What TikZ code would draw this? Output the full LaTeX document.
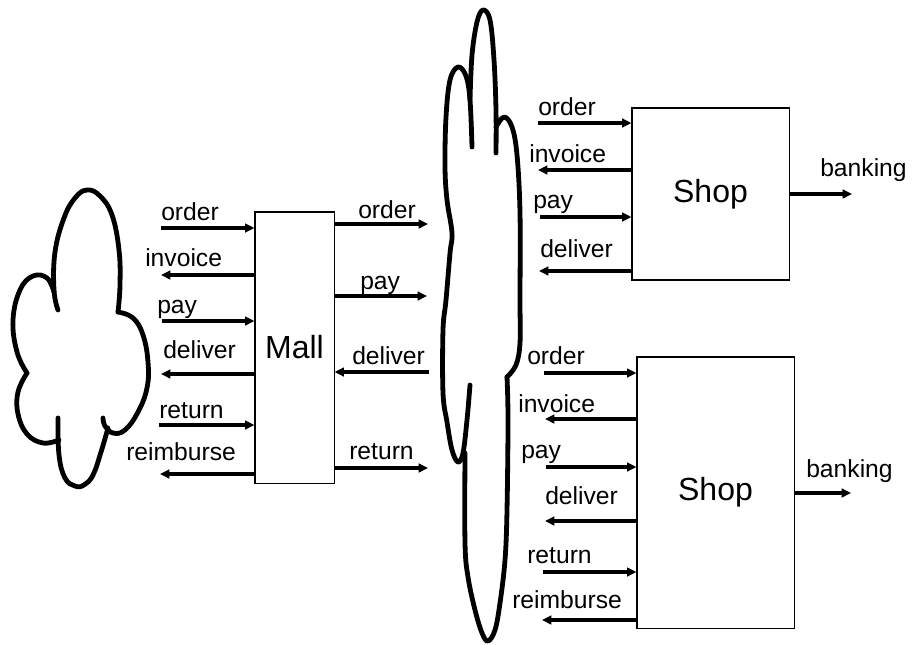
\documentclass[tikz,border=0pt]{standalone}
\usepackage{fontspec}
\setmainfont{Liberation Sans}
\usetikzlibrary{arrows.meta}

\begin{document}
\begin{tikzpicture}[
    x=0.75pt, y=-0.75pt,
    box/.style={rectangle, draw, line width=0.8pt, inner sep=0pt, font=\fontsize{24}{28}\selectfont},
    lbl/.style={anchor=base west, inner sep=0pt, font=\fontsize{18.5}{22}\selectfont},
    line/.style={draw, line width=2.3pt, -{Triangle[length=7pt, width=6.5pt]}},
    puff/.style={draw, line width=3.6pt, line cap=round, line join=round}
]
    \useasboundingbox (0,0) rectangle (912,644);

    % Boxes
    \node [box, minimum width=59.3pt, minimum height=203.3pt] (mall) at (294.5,347.5) {Mall};
    \node [box, minimum width=117.8pt, minimum height=129pt] (shopA) at (710.5,194) {Shop};
    \node [box, minimum width=117.8pt, minimum height=203.3pt] (shopB) at (715.5,492.5) {Shop};

    % Customer cloud on the left
    \draw [puff] plot [smooth, tension=0.7] coordinates {(58,310) (54,290) (55,252) (64,218) (75,198) (87,190) (100,196) (112,215) (119,250) (120,285) (118,312)};
    \draw [puff] plot [smooth, tension=0.7] coordinates {(118,312) (133,318) (143,335) (148,362) (147,388) (138,412) (125,430) (113,433) (105,426) (103,418)};
    \draw [puff] plot [smooth, tension=0.7] coordinates {(108,428) (101,452) (93,475) (84,485) (75,486) (65,478) (59,455) (58,418)};
    \draw [puff] plot [smooth, tension=0.7] coordinates {(59,440) (43,443) (27,434) (18,414) (18,392) (27,373)};
    \draw [puff] plot [smooth, tension=0.7] coordinates {(27,373) (17,352) (13,320) (20,290) (33,276) (47,278) (54,292)};

    % Network cloud in the middle
    \draw [puff] plot [smooth, tension=0.6] coordinates {(472,147) (470,100) (466,76) (458,67) (450,80) (446,117) (445,167) (447,200) (452,233) (450,253) (446,300) (443,330) (443,393) (447,422) (452,450) (458,462) (463,453) (467,420) (470,385)};
    \draw [puff] plot [smooth, tension=0.6] coordinates {(470,100) (472,55) (477,22) (483,10) (490,20) (494,60) (496,110) (496,153)};
    \draw [puff] plot [smooth, tension=0.6] coordinates {(496,127) (504,117) (512,127) (517,155) (520,213) (520,300) (520,343) (516,365) (507,377)};
    \draw [puff] plot [smooth, tension=0.6] coordinates {(507,377) (508,420) (507,510) (505,560) (500,603) (495,630) (488,641) (482,633) (475,610) (468,577) (465,543) (465,453)};

    % Customer <-> Mall
    \coordinate (c1) at (161,228);
    \coordinate (c2) at (161,275);
    \coordinate (c3) at (162,321);
    \coordinate (c4) at (161,374);
    \coordinate (c5) at (159,425);
    \coordinate (c6) at (160,474);
    \path [line] (c1) -- (c1 -| mall.west);
    \path [line] (c2 -| mall.west) -- (c2);
    \path [line] (c3) -- (c3 -| mall.west);
    \path [line] (c4 -| mall.west) -- (c4);
    \path [line] (c5) -- (c5 -| mall.west);
    \path [line] (c6 -| mall.west) -- (c6);
    \node [lbl] (c1t) at (161,220) {order};
    \node [lbl] (c2t) at (145,266) {invoice};
    \node [lbl] (c3t) at (157,313) {pay};
    \node [lbl] (c4t) at (163,358) {deliver};
    \node [lbl] (c5t) at (159,418) {return};
    \node [lbl] (c6t) at (126,460) {reimburse};

    % Mall <-> network
    \coordinate (m1) at (428,224);
    \coordinate (m2) at (427,296);
    \coordinate (m3) at (429,372);
    \coordinate (m4) at (428,468);
    \path [line] (m1 -| mall.east) -- (m1);
    \path [line] (m2 -| mall.east) -- (m2);
    \path [line] (m3) -- (m3 -| mall.east);
    \path [line] (m4 -| mall.east) -- (m4);
    \node [lbl] (m1t) at (358,218) {order};
    \node [lbl] (m2t) at (360,289) {pay};
    \node [lbl] (m3t) at (352,364) {deliver};
    \node [lbl] (m4t) at (349,459) {return};

    % Network <-> first shop
    \coordinate (a1) at (538,123);
    \coordinate (a2) at (538,170);
    \coordinate (a3) at (540,217);
    \coordinate (a4) at (539,271);
    \coordinate (a5) at (852,194);
    \path [line] (a1) -- (a1 -| shopA.west);
    \path [line] (a2 -| shopA.west) -- (a2);
    \path [line] (a3) -- (a3 -| shopA.west);
    \path [line] (a4 -| shopA.west) -- (a4);
    \path [line] (a5 -| shopA.east) -- (a5);
    \node [lbl] (a1t) at (538,115) {order};
    \node [lbl] (a2t) at (529,162) {invoice};
    \node [lbl] (a3t) at (533,208) {pay};
    \node [lbl] (a4t) at (540,257) {deliver};
    \node [lbl] (a5t) at (820,176) {banking};

    % Network <-> second shop
    \coordinate (b1) at (544,373);
    \coordinate (b2) at (545,419);
    \coordinate (b3) at (546,467);
    \coordinate (b4) at (545,521);
    \coordinate (b5) at (543,572);
    \coordinate (b6) at (542,620);
    \coordinate (b7) at (851,493);
    \path [line] (b1) -- (b1 -| shopB.west);
    \path [line] (b2 -| shopB.west) -- (b2);
    \path [line] (b3) -- (b3 -| shopB.west);
    \path [line] (b4 -| shopB.west) -- (b4);
    \path [line] (b5) -- (b5 -| shopB.west);
    \path [line] (b6 -| shopB.west) -- (b6);
    \path [line] (b7 -| shopB.east) -- (b7);
    \node [lbl] (b1t) at (527,364) {order};
    \node [lbl] (b2t) at (518,412) {invoice};
    \node [lbl] (b3t) at (521,458) {pay};
    \node [lbl] (b4t) at (545,504) {deliver};
    \node [lbl] (b5t) at (527,563) {return};
    \node [lbl] (b6t) at (512,608) {reimburse};
    \node [lbl] (b7t) at (806,477) {banking};
\end{tikzpicture}
\end{document}
